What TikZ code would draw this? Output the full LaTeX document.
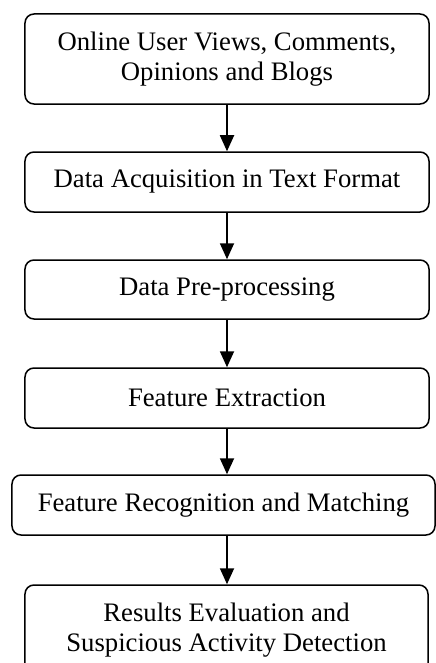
\documentclass[tikz,border=0pt]{standalone}
\usepackage{fontspec}
\setmainfont{Liberation Serif}
\usetikzlibrary{arrows.meta}

\begin{document}
\begin{tikzpicture}[x=1bp,y=-1bp,
  stage/.style={draw=black, line width=1.5bp, rounded corners=9bp,
    align=center, inner sep=0pt,
    font=\fontsize{26.8}{30}\selectfont},
  flow/.style={line width=1.8bp,
    -{Triangle[length=16bp,width=14bp]}}]
  \useasboundingbox (0,0) rectangle (436,663);
  \clip (0,0) rectangle (436,663);
  \fill[white] (0,0) rectangle (436,663);

  % processing stages, top to bottom
  \node[stage, minimum width=404bp, minimum height=90bp] (s1) at (227,59)
    {Online User Views, Comments,\\Opinions and Blogs};
  \node[stage, minimum width=404bp, minimum height=60bp] (s2) at (227,182)
    {Data Acquisition in Text Format};
  \node[stage, minimum width=404bp, minimum height=59bp] (s3) at (227,289.5)
    {Data Pre-processing};
  \node[stage, minimum width=404bp, minimum height=60bp] (s4) at (227,398)
    {Feature Extraction};
  \node[stage, minimum width=423bp, minimum height=60bp] (s5) at (223.5,505)
    {Feature Recognition and Matching};
  \node[stage, minimum width=403bp, minimum height=90bp] (s6) at (226.5,630)
    {Results Evaluation and\\Suspicious Activity Detection};

  % connectors between consecutive stages
  \draw[flow] (s1.south -| 227,0) -- (s2.north -| 227,0);
  \draw[flow] (s2.south -| 227,0) -- (s3.north -| 227,0);
  \draw[flow] (s3.south -| 227,0) -- (s4.north -| 227,0);
  \draw[flow] (s4.south -| 227,0) -- (s5.north -| 227,0);
  \draw[flow] (s5.south -| 227,0) -- (s6.north -| 227,0);
\end{tikzpicture}
\end{document}
